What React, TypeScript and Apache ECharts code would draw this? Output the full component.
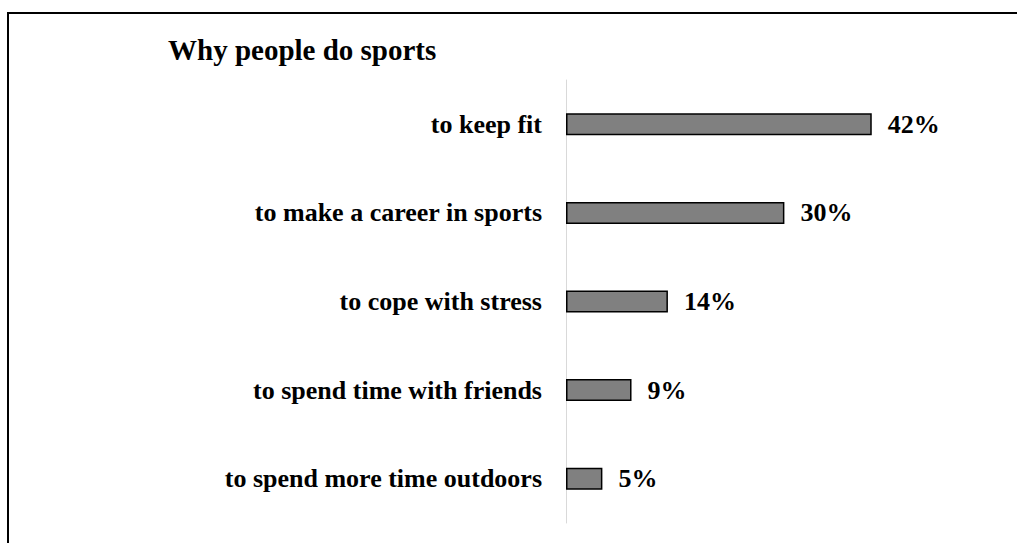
import React, { useEffect, useRef } from "react";
import * as echarts from "echarts";

const categories = [
  "to keep fit",
  "to make a career in sports",
  "to cope with stress",
  "to spend time with friends",
  "to spend more time outdoors",
];
const values = [42, 30, 14, 9, 5];
const titleText = "Why people do sports";

export default function App() {
  const ref = useRef<HTMLDivElement>(null);
  useEffect(() => {
    if (!ref.current) return;
    const chart = echarts.init(ref.current, undefined, { renderer: "svg" });
    const font = "'Liberation Serif', 'Times New Roman', serif";
    chart.setOption({
      animation: false,
      backgroundColor: "#ffffff",
      title: {
        text: titleText,
        left: 168,
        top: 35,
        padding: 0,
        textStyle: { fontFamily: font, fontWeight: "bold", fontSize: 29, color: "#000" },
      },
      graphic: [
        {
          type: "rect",
          shape: { x: 8, y: 13, width: 1030, height: 560 },
          style: { fill: "none", stroke: "#000", lineWidth: 2 },
          silent: true,
        },
      ],
      grid: { left: 566, top: 80, bottom: 20, right: 87, containLabel: false },
      xAxis: {
        type: "value",
        min: 0,
        max: 50,
        show: false,
      },
      yAxis: {
        type: "category",
        data: categories,
        inverse: true,
        axisLine: { show: true, lineStyle: { color: "#d9d9d9", width: 1 } },
        axisTick: { show: false },
        axisLabel: {
          margin: 24,
          fontFamily: font,
          fontWeight: "bold",
          fontSize: 26,
          color: "#000",
        },
      },
      series: [
        {
          type: "bar",
          data: values,
          barWidth: 22,
          itemStyle: { color: "#808080", borderColor: "#000", borderWidth: 1.5 },
          label: {
            show: true,
            position: "right",
            distance: 16,
            formatter: "{c}%",
            fontFamily: font,
            fontWeight: "bold",
            fontSize: 26,
            color: "#000",
          },
        },
      ],
    });
    return () => chart.dispose();
  }, []);
  return (
    <div
      ref={ref}
      style={{ position: "fixed", left: 0, top: 0, width: 1017, height: 543 }}
    />
  );
}
